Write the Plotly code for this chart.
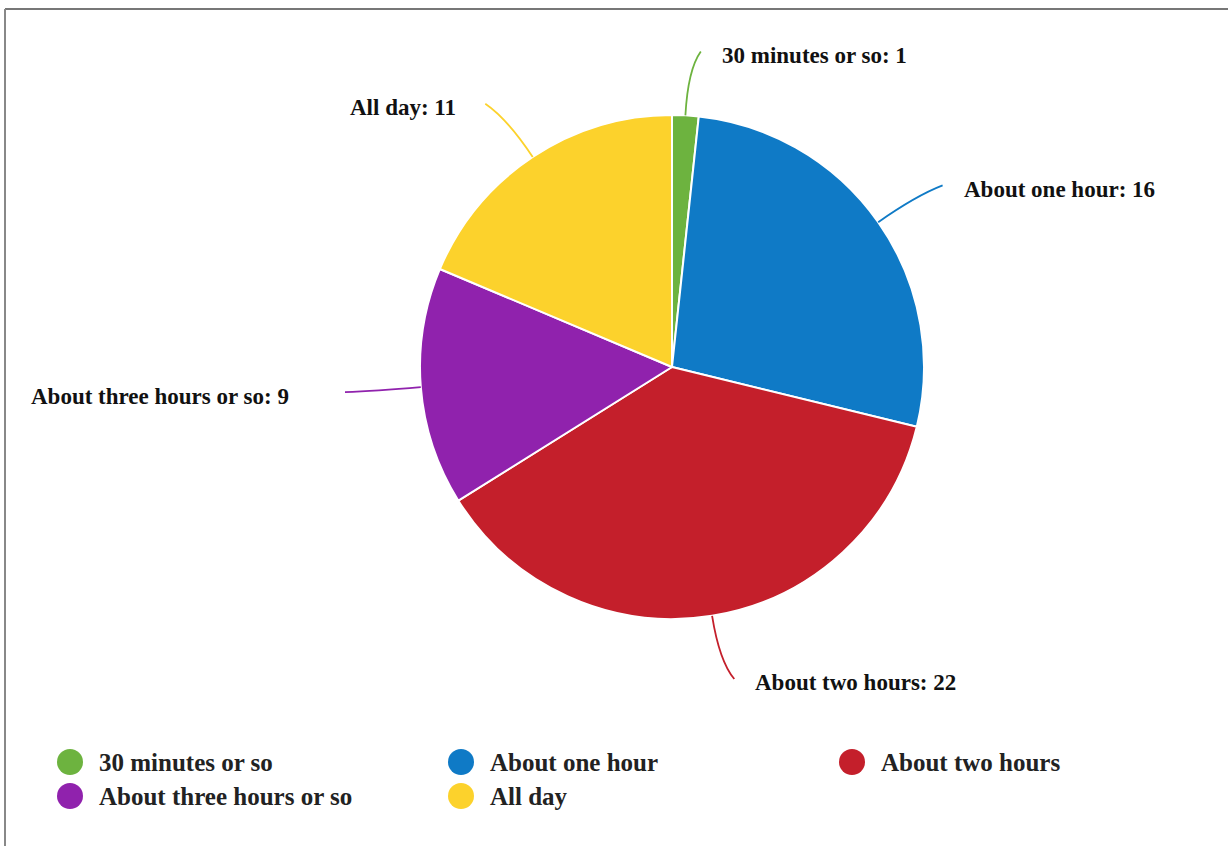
import math
import plotly.graph_objects as go

# Survey answers and counts
categories = ["30 minutes or so", "About one hour", "About two hours",
              "About three hours or so", "All day"]
counts = [1, 16, 22, 9, 11]
colors = ["#6db33f", "#0f7ac6", "#c41f2b", "#9022ad", "#fcd22c"]

W, H = 1228, 846
CX, CY, R = 672, 367, 252          # pie centre and radius in pixels
LABEL_GAP = [19, 19, 19, 54, 27]   # space between leader-line end and its label

FONT = "Liberation Serif, Times New Roman, serif"

fig = go.Figure()

fig.add_trace(go.Pie(
    labels=categories,
    values=counts,
    sort=False,
    direction="clockwise",
    rotation=0,
    marker=dict(colors=colors, line=dict(color="white", width=2)),
    textinfo="none",
    showlegend=False,
    domain=dict(x=[(CX - R) / W, (CX + R) / W],
                y=[1 - (CY + R) / H, 1 - (CY - R) / H]),
))

shapes = []
annotations = []

# Leader lines and outside labels, placed at each slice's mid angle
total = sum(counts)
cum = 0
for i, (cat, val, col) in enumerate(zip(categories, counts, colors)):
    mid = (cum + val / 2) / total * 2 * math.pi
    cum += val
    sx, sy = math.sin(mid), -math.cos(mid)
    side = 1 if sx >= 0 else -1
    x0, y0 = CX + R * sx, CY + R * sy
    x1, y1 = CX + 298 * sx, CY + 298 * sy
    x2, y2 = CX + 316 * sx + 12 * side, CY + 316 * sy
    shapes.append(dict(
        type="path", xref="x", yref="y", layer="above",
        path=f"M {x0:.1f} {y0:.1f} Q {x1:.1f} {y1:.1f} {x2:.1f} {y2:.1f}",
        line=dict(color=col, width=1.8),
    ))
    annotations.append(dict(
        x=x2 + side * LABEL_GAP[i], y=y2 + 4, xref="x", yref="y",
        text=f"{cat}: {val}", showarrow=False,
        xanchor="left" if side > 0 else "right", yanchor="middle",
        font=dict(family=FONT, size=23, color="#111", weight="bold"),
    ))

# Legend: three columns of round swatches below the pie
LEG_X0, LEG_DX, LEG_Y0, LEG_DY = 70, 391, 762, 34
leg_x = [LEG_X0 + (i % 3) * LEG_DX for i in range(len(categories))]
leg_y = [LEG_Y0 + (i // 3) * LEG_DY for i in range(len(categories))]
fig.add_trace(go.Scatter(
    x=leg_x, y=leg_y, mode="markers",
    marker=dict(size=26, color=colors, line=dict(width=0)),
    showlegend=False, hoverinfo="skip",
))
for cat, lx, ly in zip(categories, leg_x, leg_y):
    annotations.append(dict(
        x=lx + 27, y=ly, xref="x", yref="y", text=cat, showarrow=False,
        xanchor="left", yanchor="middle",
        font=dict(family=FONT, size=25, color="#222", weight="bold"),
    ))

# Frame lines along the top and left edges
shapes.append(dict(type="line", xref="x", yref="y", x0=5, y0=9, x1=W, y1=9,
                   line=dict(color="#777", width=2)))
shapes.append(dict(type="line", xref="x", yref="y", x0=5, y0=9, x1=5, y1=H,
                   line=dict(color="#888", width=2)))

fig.update_layout(
    width=W, height=H,
    margin=dict(l=0, r=0, t=0, b=0),
    paper_bgcolor="white", plot_bgcolor="rgba(0,0,0,0)",
    xaxis=dict(range=[0, W], visible=False, fixedrange=True),
    yaxis=dict(range=[H, 0], visible=False, fixedrange=True),
    shapes=shapes,
    annotations=annotations,
    showlegend=False,
)

fig.write_html("out.html")
